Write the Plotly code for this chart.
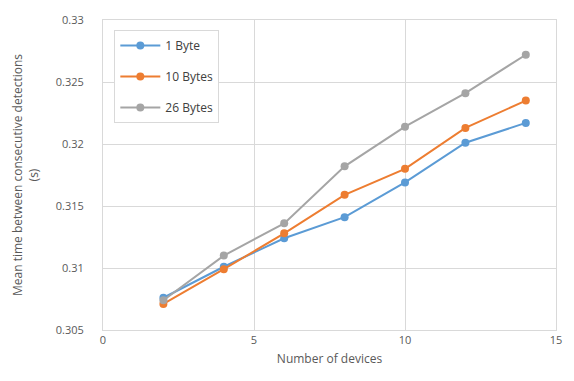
import plotly.graph_objects as go

devices = [2, 4, 6, 8, 10, 12, 14]
byte1 = [0.3076, 0.3101, 0.3124, 0.3141, 0.3169, 0.3201, 0.3217]
bytes10 = [0.3071, 0.3099, 0.3128, 0.3159, 0.3180, 0.3213, 0.3235]
bytes26 = [0.3074, 0.3110, 0.3136, 0.3182, 0.3214, 0.3241, 0.3272]

series = [("1 Byte", byte1, "#5B9BD5"), ("10 Bytes", bytes10, "#ED7D31"), ("26 Bytes", bytes26, "#A5A5A5")]

fig = go.Figure()
for name, vals, col in series:
    fig.add_trace(go.Scatter(x=devices, y=vals, name=name, legendgroup=name, mode="lines+markers",
                             line=dict(color=col, width=2), marker=dict(color=col, size=8)))

font = "Open Sans, Liberation Sans, sans-serif"
fig.update_layout(
    width=574, height=381,
    margin=dict(l=103, r=17, t=14, b=51),
    paper_bgcolor="white", plot_bgcolor="white",
    font=dict(family=font, size=12, color="#595959"),
    legend=dict(x=0.025, y=0.968, xanchor="left", yanchor="top",
                bordercolor="#D9D9D9", borderwidth=1, bgcolor="white",
                font=dict(size=12, color="#404040"), tracegroupgap=12, itemwidth=40),
    xaxis=dict(range=[0, 15], dtick=5, showgrid=True, gridcolor="#D9D9D9",
               zeroline=False, showline=True, linecolor="#D9D9D9", mirror=True,
               ticks="", title=dict(text="Number of devices", font=dict(size=12, color="#595959"), standoff=8),
               tickfont=dict(size=11, color="#595959")),
    yaxis=dict(range=[0.305, 0.33], dtick=0.005, showgrid=True, gridcolor="#D9D9D9",
               zeroline=False, showline=True, linecolor="#D9D9D9", mirror=True,
               ticks="", ticklabelstandoff=16,
               title=dict(text="Mean time between consecutive detections<br>(s)", font=dict(size=12, color="#595959"), standoff=14),
               tickfont=dict(size=11, color="#595959")),
)
fig.write_html("out.html")
